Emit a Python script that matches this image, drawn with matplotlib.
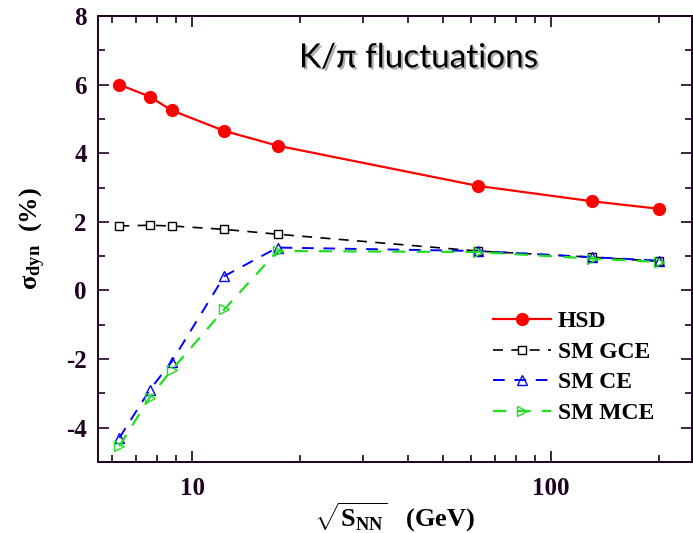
import matplotlib
matplotlib.use("Agg")
import matplotlib.pyplot as plt
import matplotlib.patheffects as pe
from matplotlib.ticker import LogLocator, NullFormatter, FixedLocator, FixedFormatter, MultipleLocator

# ---------- data ----------
energies = [6.27, 7.62, 8.77, 12.3, 17.3, 62.4, 130, 200]

hsd = [6.0, 5.65, 5.25, 4.65, 4.22, 3.05, 2.6, 2.38]
sm_gce = [1.88, 1.9, 1.88, 1.78, 1.64, 1.15, 0.97, 0.85]
sm_ce = [-4.3, -2.9, -2.08, 0.42, 1.25, 1.15, 0.97, 0.87]
sm_mce = [-4.54, -3.12, -2.32, -0.55, 1.15, 1.12, 0.93, 0.83]

labels = ["HSD", "SM GCE", "SM CE", "SM MCE"]

# ---------- fonts ----------
plt.rcParams["mathtext.fontset"] = "custom"
plt.rcParams["mathtext.rm"] = "Liberation Serif"
plt.rcParams["mathtext.it"] = "Liberation Serif:italic"
plt.rcParams["mathtext.bf"] = "Liberation Serif:bold"
plt.rcParams["font.family"] = "Liberation Serif"
plt.rcParams["axes.unicode_minus"] = False

fig = plt.figure(figsize=(6.93, 5.33), dpi=100)
ax = fig.add_axes([0.1414, 0.1332, 0.8572, 0.8368])

ax.plot(energies, hsd, color="#ff0000", lw=1.6, marker="o", ms=8.5,
        label=labels[0])
ax.plot(energies, sm_gce, color="black", lw=1.2, ls=(0, (6, 5)), marker="s",
        ms=6, mfc="white", mec="black", mew=1.0, label=labels[1])
ax.plot(energies, sm_ce, color="#0000ff", lw=1.4, ls=(0, (6, 5)), marker="^",
        ms=7, mfc="none", mec="#0000ff", mew=1.0, label=labels[2])
ax.plot(energies, sm_mce, color="#22dd22", lw=1.6, ls=(0, (6, 5)), marker=">",
        ms=7, mfc="none", mec="#22dd22", mew=1.0, label=labels[3])

# ---------- axes ----------
ax.set_xscale("log")
ax.set_xlim(5.47, 247)
ax.set_ylim(-5, 8)

ax.xaxis.set_major_locator(FixedLocator([10, 100]))
ax.xaxis.set_major_formatter(FixedFormatter(["10", "100"]))
ax.xaxis.set_minor_locator(LogLocator(base=10, subs=range(2, 10)))
ax.xaxis.set_minor_formatter(NullFormatter())
ax.yaxis.set_major_locator(MultipleLocator(2))
ax.yaxis.set_minor_locator(MultipleLocator(1))

ax.tick_params(which="both", direction="in", top=True, right=True,
               colors="#200020", width=1.2)
ax.tick_params(which="major", length=8, labelsize=18)
ax.tick_params(axis="x", which="major", pad=11)
ax.tick_params(axis="y", which="major", pad=8)
ax.tick_params(which="minor", length=5)
for lab in ax.get_xticklabels() + ax.get_yticklabels():
    lab.set_fontweight("bold")
for sp in ax.spines.values():
    sp.set_linewidth(1.4)
    sp.set_color("#200020")

ax.set_xlabel(r"$\sqrt{\mathbf{S}_{\mathbf{NN}}}$   (GeV)", fontsize=19,
              fontweight="bold", labelpad=0)
ax.set_ylabel("\u03c3$_{\\mathbf{dyn}}$  (%)", fontsize=19,
              fontweight="bold", labelpad=13)

ax.text(0.54, 0.905, "K/\u03c0 fluctuations", transform=ax.transAxes,
        ha="center", va="center", fontsize=24, family="Lato",
        path_effects=[pe.withSimplePatchShadow(offset=(1.5, -1.5),
                                               shadow_rgbFace="#999999",
                                               alpha=0.8)])

leg = ax.legend(loc="upper left", bbox_to_anchor=(0.649, 0.36),
                borderaxespad=0, frameon=False,
                prop={"family": "Liberation Serif", "weight": "bold",
                      "size": 17},
                handlelength=2.45, labelspacing=0.38, handletextpad=0.3)

fig.savefig("out.png", dpi=100)
